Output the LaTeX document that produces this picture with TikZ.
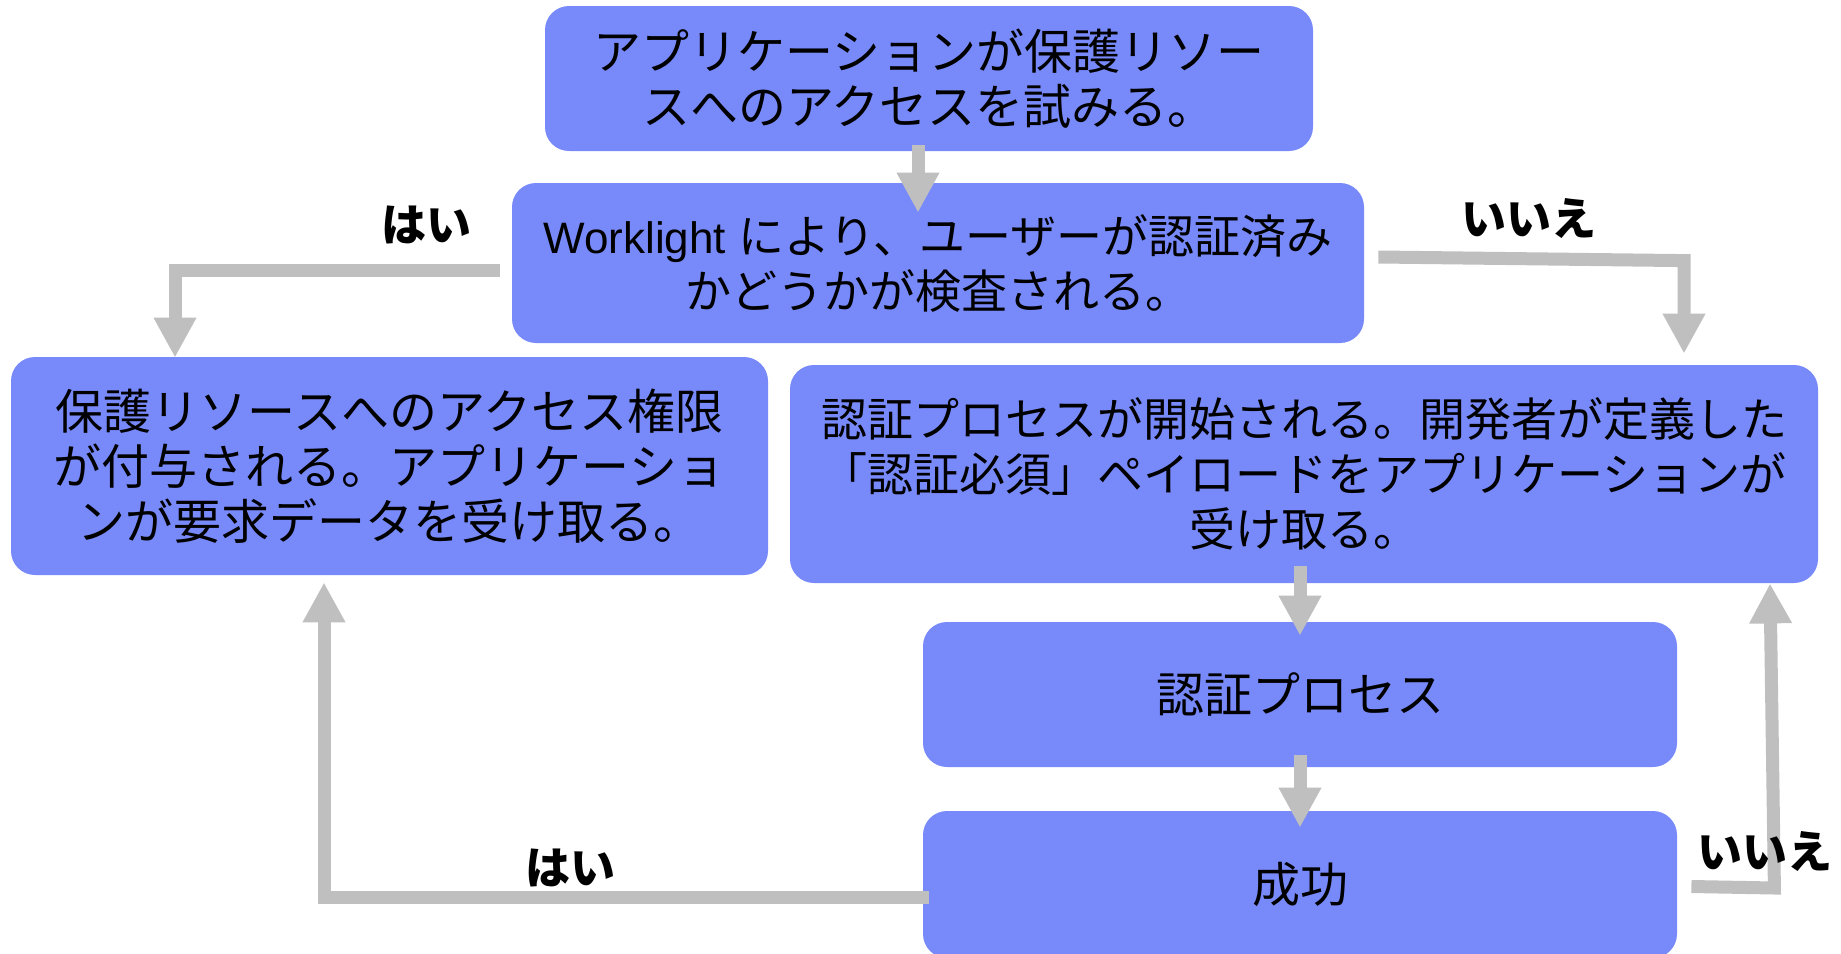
\documentclass[tikz,border=0pt]{standalone}
\usepackage{fontspec}
\setmainfont{Noto Sans CJK JP}
\newfontfamily\latinfont{Liberation Sans}
\usetikzlibrary{arrows.meta,calc}
\definecolor{boxblue}{RGB}{120,138,250}
\definecolor{arrowgray}{RGB}{191,191,191}
\begin{document}
\begin{tikzpicture}[x=0.5pt,y=-0.5pt,
  box/.style={fill=boxblue, draw=none, rounded corners=12pt, inner sep=0pt, align=center,
    font=\fontsize{24pt}{27.5pt}\selectfont},
  smallbox/.style={box, font=\fontsize{23pt}{27.5pt}\selectfont},
  flow/.style={draw=arrowgray, line width=6.5pt, line join=miter,
    -{Triangle[width=20pt,length=20pt]}},
  lbl/.style={font=\bfseries\fontsize{22.5pt}{27pt}\selectfont, inner sep=0pt}]
\useasboundingbox (0,0) rectangle (1841,953);

% boxes
\node[box, minimum width=384pt, minimum height=72.5pt] (b1) at (929,78.5)
  {アプリケーションが保護リソー\\スへのアクセスを試みる。};
\node[smallbox, minimum width=426pt, minimum height=80pt] (b2) at (938,263)
  {{\latinfont\fontsize{22pt}{27pt}\selectfont Worklight }により、ユーザーが認証済み\\かどうかが検査される。};
\node[box, minimum width=378.5pt, minimum height=109pt] (b3) at (389.5,466)
  {保護リソースへのアクセス権限\\が付与される。アプリケーショ\\ンが要求データを受け取る。};
\node[smallbox, minimum width=514pt, minimum height=109pt] (b4) at (1304,474)
  {認証プロセスが開始される。開発者が定義した\\「認証必須」ペイロードをアプリケーションが\\受け取る。};
\node[box, minimum width=377pt, minimum height=72.5pt] (b5) at (1300,694.5) {認証プロセス};
\node[box, minimum width=377pt, minimum height=73.5pt] (b6) at (1300,884.5) {成功};

% connectors
\draw[flow] ($(b1.south)+(-11,-6)$) -- ($(b2.north)+(-20,30)$);
\coordinate (h1) at ($(b2.west)+(-12,7)$);
\draw[flow] (h1) -| ($(b3.north)+(-214.5,1)$);
\coordinate (n1) at ($(b2.east)+(14,-6)$);
\coordinate (n1b) at ($(b4.north)+(380,-104)$);
\draw[flow] (n1) -- (n1b) -- ($(b4.north)+(380,-11)$);
\draw[flow] ($(b4.south)+(-4,-17)$) -- ($(b5.north)+(0,14)$);
\draw[flow] ($(b5.south)+(0,-12)$) -- ($(b6.north)+(0,17)$);
\coordinate (n2) at ($(b6.east)+(14,2)$);
\coordinate (n2b) at ($(b6.east)+(97,3.5)$);
\draw[flow] (n2) -- (n2b) -- ($(b4.south)+(466,0)$);
\coordinate (h2) at ($(b6.west)+(6,13)$);
\draw[flow] (h2) -| ($(b3.south)+(-65.5,7)$);

% labels
\node[lbl] (l1) at (426,225) {はい};
\node[lbl] (l2) at (1529,219) {いいえ};
\node[lbl] (l3) at (1765,852) {いいえ};
\node[lbl] (l4) at (570,868) {はい};
\end{tikzpicture}
\end{document}
